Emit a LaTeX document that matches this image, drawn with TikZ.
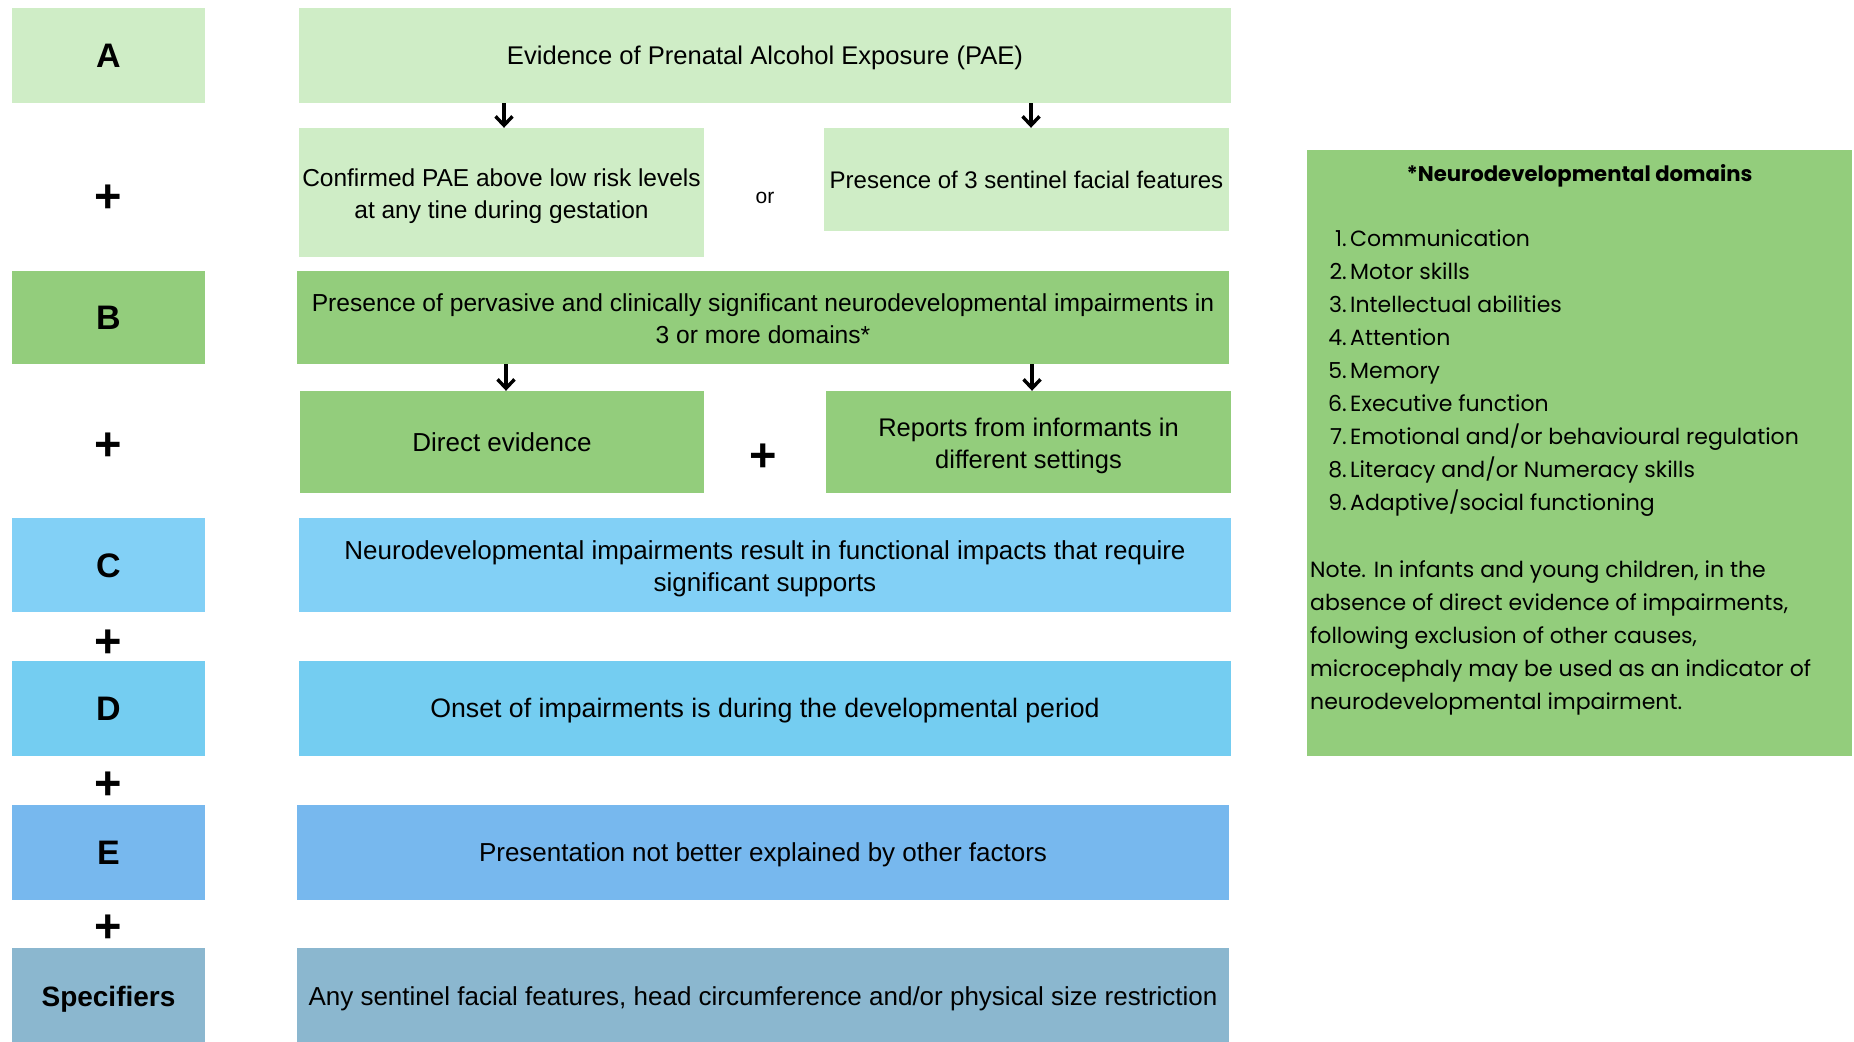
\documentclass[tikz,border=0pt]{standalone}
\usepackage{fontspec}
\setmainfont{Liberation Sans}
\newfontfamily\panelfont{Poppins}
\usetikzlibrary{arrows.meta}
\definecolor{gA}{HTML}{CFEDC6}
\definecolor{gB}{HTML}{93CD7C}
\definecolor{bC}{HTML}{82D0F6}
\definecolor{bD}{HTML}{74CDF1}
\definecolor{bE}{HTML}{77B8EE}
\definecolor{bS}{HTML}{8BB7CF}
\newcommand{\fs}[1]{\fontsize{#1}{32}\selectfont}
\tikzset{
  box/.style={rectangle, inner sep=0pt, align=center, font=\fs{26}},
  one/.style={text height=18.6pt, text depth=0pt},
  lab/.style={rectangle, inner sep=0pt, font=\fontsize{34}{36}\selectfont\bfseries, text height=24.4pt, text depth=0pt},
  plus/.style={inner sep=0pt, font=\fontsize{47}{47}\selectfont\bfseries},
  arr/.style={-{Straight Barb[length=9pt,width=17pt,line width=3.4pt]}, line width=3.4pt},
  ptext/.style={inner sep=0pt, font=\panelfont\fontsize{22}{33}\selectfont},
}
\begin{document}
\begin{tikzpicture}[x=1pt,y=-1pt]
\useasboundingbox (0,0) rectangle (1854,1041);
% row A
\node[lab, fill=gA, minimum width=193, minimum height=95] (LA) at (108.5,55.5) {A};
\node[box, one, fill=gA, minimum width=932, minimum height=95, font=\fs{25.6}] (A) at (765,55.5) {Evidence of Prenatal Alcohol Exposure (PAE)};
\node[fill=gA, minimum width=405, minimum height=129, inner sep=0pt] (A1) at (501.5,192.5) {};
\node[box, font=\fs{24.5}] (A1t) at (501.5,196) {Confirmed PAE above low risk levels\\at any tine during gestation};
\node[box, one, fill=gA, minimum width=405, minimum height=103, font=\fs{24}] (A2) at (1026.5,179.5) {Presence of 3 sentinel facial features};
\node[inner sep=0pt, font=\fontsize{21}{24}\selectfont] (or) at (765,198) {or};
\node[plus] (p1) at (108,198.5) {+};
% row B
\node[lab, fill=gB, minimum width=193, minimum height=93] (LB) at (108.5,317.5) {B};
\node[fill=gB, minimum width=932, minimum height=93, inner sep=0pt] (B) at (763,317.5) {};
\node[box, font=\fs{24.6}] (Bt) at (763,319) {Presence of pervasive and clinically significant neurodevelopmental impairments in\\3 or more domains*};
\node[box, one, fill=gB, minimum width=404, minimum height=102] (B1) at (502,442) {Direct evidence};
\node[fill=gB, minimum width=405, minimum height=102, inner sep=0pt] (B2) at (1028.5,442) {};
\node[box, font=\fs{25.5}] (B2t) at (1028.5,446) {Reports from informants in\\different settings};
\node[plus] (pm) at (763,457.5) {+};
\node[plus] (p2) at (108,446.5) {+};
% row C
\node[lab, fill=bC, minimum width=193, minimum height=94] (LC) at (108.5,565) {C};
\node[fill=bC, minimum width=932, minimum height=94, inner sep=0pt] (C) at (765,565) {};
\node[box] (Ct) at (765,568.5) {Neurodevelopmental impairments result in functional impacts that require\\significant supports};
\node[plus] (p3) at (108,643.5) {+};
% row D
\node[lab, fill=bD, minimum width=193, minimum height=95] (LD) at (108.5,708.5) {D};
\node[box, one, fill=bD, minimum width=932, minimum height=95, font=\fs{26.7}] (D) at (765,708.5) {Onset of impairments is during the developmental period};
\node[plus] (p4) at (108,785.5) {+};
% row E
\node[lab, fill=bE, minimum width=193, minimum height=95] (LE) at (108.5,852.5) {E};
\node[box, one, fill=bE, minimum width=932, minimum height=95] (E) at (763,852.5) {Presentation not better explained by other factors};
\node[plus] (p5) at (108,928.5) {+};
% specifiers
\node[lab, fill=bS, minimum width=193, minimum height=96, font=\fontsize{28}{32}\selectfont\bfseries, text height=20pt] (LS) at (108.5,996) {Specifiers};
\node[box, one, fill=bS, minimum width=932, minimum height=96] (S) at (763,996) {Any sentinel facial features, head circumference and/or physical size restriction};
% arrows
\draw[arr] ([xshift=2.5pt]A.south -| A1.north) -- ([xshift=2.5pt]A1.north);
\draw[arr] ([xshift=4.5pt]A.south -| A2.north) -- ([xshift=4.5pt]A2.north);
\draw[arr] ([xshift=4pt]B.south -| B1.north) -- ([xshift=4pt]B1.north);
\draw[arr] ([xshift=3.5pt]B.south -| B2.north) -- ([xshift=3.5pt]B2.north);
% panel
\node[fill=gB, minimum width=545, minimum height=606, inner sep=0pt] (P) at (1579.5,453) {};
\node[ptext, font=\panelfont\fontsize{21.2}{33}\selectfont\bfseries, anchor=base] (PT) at (1579.5,181) {*Neurodevelopmental domains};
\foreach \n/\t [count=\i from 0] in {1/{Communication},2/{Motor skills},3/{Intellectual abilities},4/{Attention},5/{Memory},6/{Executive function},7/{Emotional and/or behavioural regulation},8/{Literacy and/or Numeracy skills},9/{Adaptive/social functioning}}{
  \node[ptext, anchor=base east] (num\i) at (1347,246+33.1*\i) {\n.};
  \node[ptext, anchor=base west] (item\i) at (1350,246+33.1*\i) {\t};
}
\foreach \t [count=\i from 0] in {{Note. In infants and young children, in the},{absence of direct evidence of impairments,},{following exclusion of other causes,},{microcephaly may be used as an indicator of},{neurodevelopmental impairment.}}{
  \node[ptext, anchor=base west] (note\i) at (1310,577+33.1*\i) {\t};
}
\end{tikzpicture}
\end{document}
